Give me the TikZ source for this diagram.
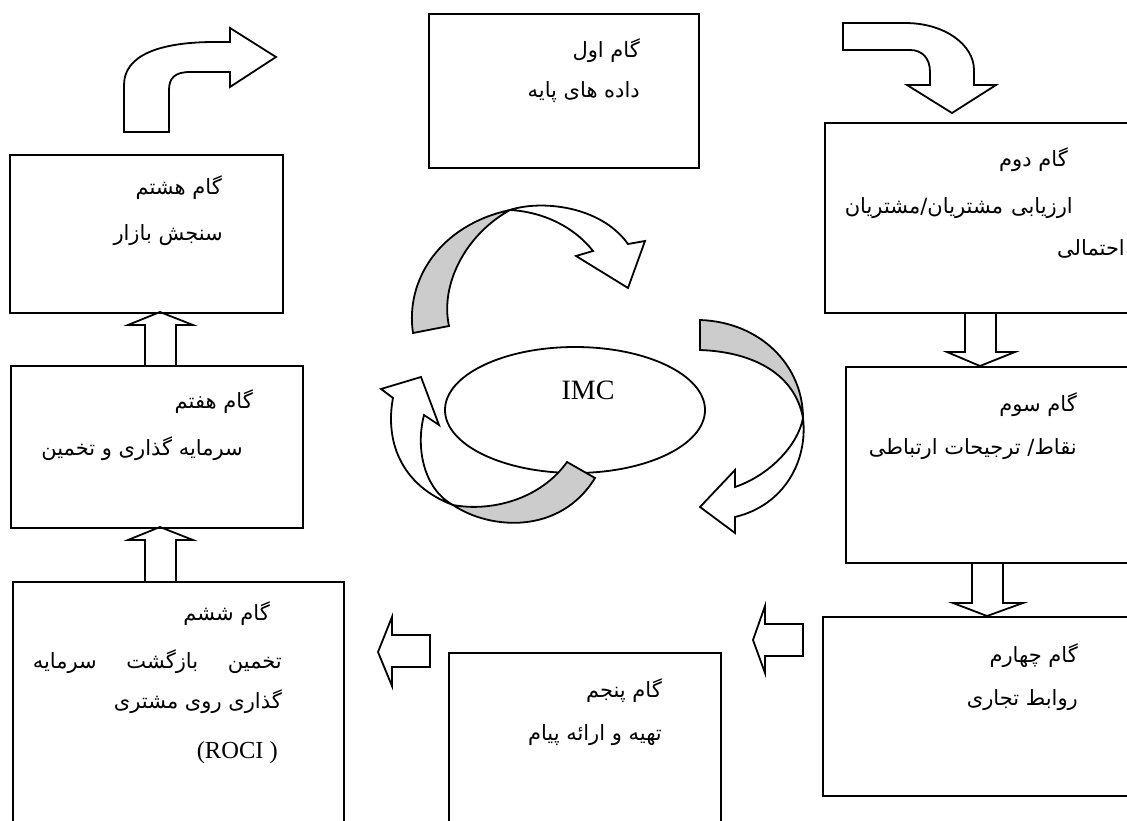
\documentclass[tikz,border=0pt]{standalone}
\usepackage{fontspec}
\setmainfont{Liberation Serif}
\newfontfamily\fa[Script=Arabic]{DejaVu Sans}
\TeXXeTstate=1
\usetikzlibrary{shapes.geometric}
\tikzset{
  box/.style={draw, line width=2pt, rectangle, anchor=north west, inner sep=0},
  fa/.style={inner sep=0, anchor=east, font=\fa\fontsize{21}{25}\selectfont},
  blk/.style={draw, line width=1.8pt, line join=miter, fill=white},
  blkline/.style={draw, line width=1.8pt, line join=miter},
  shade/.style={draw, line width=1.8pt, line join=miter, fill=gray!40},
}
\begin{document}
\begin{tikzpicture}[x=1pt,y=-1pt]
\useasboundingbox (0,0) rectangle (1127,821);
\clip (0,0) rectangle (1127,821);
\fill[white] (0,0) rectangle (1127,821);

% boxes
\node[box, minimum width=270, minimum height=154] (b1) at (428,13) {};
\node[box, minimum width=320, minimum height=190] (b2) at (824,122) {};
\node[box, minimum width=300, minimum height=196] (b3) at (845,366) {};
\node[box, minimum width=320, minimum height=179] (b4) at (822,616) {};
\node[box, minimum width=272, minimum height=180] (b5) at (448,652) {};
\node[box, minimum width=331, minimum height=250] (b6) at (12,581) {};
\node[box, minimum width=292, minimum height=162] (b7) at (10,365) {};
\node[box, minimum width=273, minimum height=158] (b8) at (9,154) {};

% texts
\node[fa] (t1a) at (640,51) {\beginR گام اول\endR};
\node[fa] (t1b) at (640,92) {\beginR داده های پایه\endR};

\node[fa] (t2a) at (1068,160) {\beginR گام دوم\endR};
\node[fa] (t2b) at (1073,208) {\hbox to 228pt{\beginR ارزیابی\hfill مشتریان/مشتریان\endR}};
\node[fa] (t2c) at (1125,249) {\beginR احتمالی\endR};

\node[fa] (t3a) at (1077,405) {\beginR گام سوم\endR};
\node[fa] (t3b) at (1077,449) {\beginR نقاط/ ترجیحات ارتباطی\endR};

\node[fa] (t4a) at (1078,656) {\beginR گام چهارم\endR};
\node[fa] (t4b) at (1078,700) {\beginR روابط تجاری\endR};

\node[fa] (t5a) at (662,691) {\beginR گام پنجم\endR};
\node[fa] (t5b) at (662,735) {\beginR تهیه و ارائه پیام\endR};

\node[fa] (t6a) at (270,614) {\beginR گام ششم\endR};
\node[fa] (t6b) at (282,662) {\hbox to 249pt{\beginR تخمین\hfill بازگشت\hfill سرمایه\endR}};
\node[fa] (t6c) at (282,702) {\beginR گذاری روی مشتری\endR};
\node[inner sep=0, anchor=east, font=\fontsize{24.5}{28}\selectfont] (t6d) at (278,753) {(ROCI )};

\node[fa] (t7a) at (253,402) {\beginR گام هفتم\endR};
\node[fa] (t7b) at (243,449) {\beginR سرمایه گذاری و تخمین\endR};

\node[fa] (t8a) at (222,188) {\beginR گام هشتم\endR};
\node[fa] (t8b) at (223,235) {\beginR سنجش بازار\endR};

% straight block arrows
\path[blkline] (965,312) -- (965,352) -- (947,352) -- (980,366) -- (1015,352) -- (996,352) -- (996,312);
\path[blkline] (972,562) -- (972,603) -- (953,603) -- (987,616) -- (1023,603) -- (1003,603) -- (1003,562);
\path[blk] (803,624) -- (765,624) -- (765,606) -- (753,640) -- (765,673) -- (765,656) -- (803,656) -- cycle;
\path[blk] (430,635) -- (392,635) -- (392,617) -- (378,652) -- (392,686) -- (392,667) -- (430,667) -- cycle;
\path[blkline] (145,581) -- (145,540) -- (128,540) -- (160,527) -- (193,540) -- (176,540) -- (176,581);
\path[blkline] (145,365) -- (145,325) -- (128,325) -- (160,312) -- (193,325) -- (176,325) -- (176,365);

% bent arrows at top
\path[blk] (124,132) -- (124,85) .. controls (124,55) and (160,42) .. (215,42) -- (230,42) -- (230,28) -- (276,57) -- (230,87) -- (230,72) -- (190,72) .. controls (175,72) and (169,78) .. (169,90) -- (169,132) -- cycle;
\path[blk] (843,23) -- (905,23) .. controls (945,23) and (974,45) .. (974,70) -- (974,85) -- (996,85) -- (952,113) -- (907,85) -- (930,85) -- (930,72) .. controls (930,58) and (922,50) .. (910,50) -- (843,50) -- cycle;

% IMC
\node[draw, ellipse, line width=1.8pt, minimum width=260, minimum height=126, inner sep=0, fill=white] (imc) at (575,410) {};
\node[inner sep=0, font=\fontsize{28}{30}\selectfont] (imct) at (588,390) {IMC};

% circular arrows
\path[blk] (510,210) .. controls (540,200) and (600,205) .. (628,244) -- (645,241) -- (628,288) -- (576,256) -- (593,251) .. controls (575,228) and (545,212) .. (510,210) -- cycle;
\path[shade] (413,333) .. controls (405,280) and (440,225) .. (510,210) .. controls (465,235) and (440,285) .. (449,326) -- cycle;

\path[blk] (803,418) .. controls (808,460) and (785,505) .. (735,517) -- (735,533) -- (700,507) -- (735,470) -- (735,487) .. controls (770,475) and (798,445) .. (803,418) -- cycle;
\path[shade] (700,320) .. controls (760,322) and (803,365) .. (803,418) .. controls (795,375) and (755,352) .. (700,350) -- cycle;

\path[blk] (453,505) .. controls (400,485) and (385,440) .. (393,398) -- (381,389) -- (421,377) -- (439,425) -- (424,415) .. controls (415,450) and (425,490) .. (453,505) -- cycle;
\path[shade] (567,462) .. controls (540,500) and (490,512) .. (453,505) .. controls (490,530) and (560,535) .. (595,478) -- cycle;
\end{tikzpicture}
\end{document}
